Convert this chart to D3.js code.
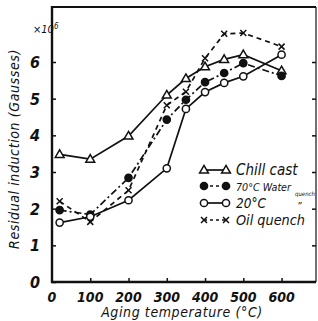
<!DOCTYPE html>
<html>
<head>
<meta charset="utf-8">
<script src="https://cdn.jsdelivr.net/npm/d3@7"></script>
<style>
  body { margin: 0; background: #fff; }
  text { font-family: "DejaVu Sans Condensed", "Liberation Sans", sans-serif; font-style: italic; fill: #111; }
  .leg { font-family: "Liberation Sans Narrow", "DejaVu Sans Condensed", sans-serif; }
</style>
</head>
<body>
<div class="chart"></div>
<script>
// Chart values
var temps = [20, 100, 200, 300, 350, 400, 450, 500, 600];
var chillCast = [3.48, 3.35, 3.98, 5.1, 5.55, 5.87, 6.07, 6.2, 5.76];
var waterQuench = [1.96, 1.84, 2.84, 4.43, 4.97, 5.45, 5.7, 5.97, 5.62];
var roomQuench = [1.62, 1.78, 2.23, 3.1, 4.72, 5.18, 5.43, 5.61, 6.2];
var oilQuench = [2.2, 1.64, 2.5, 4.82, 5.19, 6.1, 6.77, 6.79, 6.42];
var xTicks = [0, 100, 200, 300, 400, 500, 600];
var yTicks = [0, 1, 2, 3, 4, 5, 6];
var legendNames = ["Chill cast", "70°C Water", "20°C", "Oil quench"];

var svgWidth = 318;
var svgHeight = 321;

var svg = d3.select(".chart")
  .append("svg")
  .attr("width", svgWidth)
  .attr("height", svgHeight);

var xScale = d3.scaleLinear().domain([0, 690]).range([52, 316]);
var yScale = d3.scaleLinear().domain([0, 7.5]).range([282, 7]);

// frame
svg.append("line").attr("x1", 52).attr("x2", 316).attr("y1", 7).attr("y2", 7)
  .attr("stroke", "#111").attr("stroke-width", 2.2);
svg.append("line").attr("x1", 316).attr("x2", 316).attr("y1", 7).attr("y2", 282)
  .attr("stroke", "#111").attr("stroke-width", 1.2);

// axes with inward ticks
var leftAxis = d3.axisLeft(yScale).tickValues(yTicks).tickSize(-4).tickFormat("");
var rightAxis = d3.axisRight(yScale).tickValues(yTicks.slice(1)).tickSize(-4).tickFormat("");
var bottomAxis = d3.axisBottom(xScale).tickValues(xTicks.slice(1)).tickSize(-4).tickFormat("");

var gl = svg.append("g").attr("transform", "translate(52,0)").call(leftAxis);
var gr = svg.append("g").attr("transform", "translate(316,0)").call(rightAxis);
var gb = svg.append("g").attr("transform", "translate(0,282)").call(bottomAxis);
[gl, gr, gb].forEach(function(g) {
  g.select(".domain").remove();
  g.selectAll(".tick line").attr("stroke", "#111").attr("stroke-width", 1.5);
});
svg.append("line").attr("x1", 52).attr("x2", 52).attr("y1", 6).attr("y2", 283)
  .attr("stroke", "#111").attr("stroke-width", 2.4);
svg.append("line").attr("x1", 51).attr("x2", 316).attr("y1", 282).attr("y2", 282)
  .attr("stroke", "#111").attr("stroke-width", 2.4);

// tick labels
svg.selectAll(".ylab")
  .data(yTicks)
  .enter()
  .append("text")
  .attr("x", 40)
  .attr("y", d => yScale(d) + 6)
  .attr("text-anchor", "end")
  .attr("font-size", 16)
  .attr("font-weight", "bold")
  .text(d => d);

svg.selectAll(".xlab")
  .data(xTicks)
  .enter()
  .append("text")
  .attr("x", d => xScale(d))
  .attr("y", 302)
  .attr("text-anchor", "middle")
  .attr("font-size", 14)
  .attr("font-weight", "bold")
  .text(d => d);

var exp = svg.append("text").attr("x", 33).attr("y", 33).attr("font-size", 11);
exp.append("tspan").text("×10");
exp.append("tspan").attr("dy", -4).attr("font-size", 8).text("6");

// axis titles
svg.append("text")
  .attr("transform", "translate(19,149) rotate(-90)")
  .attr("text-anchor", "middle")
  .attr("font-size", 14)
  .attr("letter-spacing", 0.6)
  .text("Residual induction (Gausses)");

svg.append("text")
  .attr("x", 182)
  .attr("y", 317)
  .attr("text-anchor", "middle")
  .attr("font-size", 14)
  .attr("letter-spacing", 0.6)
  .text("Aging temperature (°C)");

// series
var series = [
  { name: legendNames[0], values: chillCast, dash: null, marker: "triangle", w: 68 },
  { name: legendNames[1], values: waterQuench, dash: "7,3,2,3", marker: "filled", w: 55 },
  { name: legendNames[2], values: roomQuench, dash: null, marker: "circle", w: 30 },
  { name: legendNames[3], values: oilQuench, dash: "5,4", marker: "cross", w: 69 }
];

var line = d3.line()
  .x((d, i) => xScale(temps[i]))
  .y(d => yScale(d));

function drawMarker(g, type, x, y) {
  if (type === "triangle") {
    g.append("path")
      .attr("d", d3.symbol().type(d3.symbolTriangle).size(34)())
      .attr("transform", "translate(" + x + "," + (y + 0.5) + ")")
      .attr("fill", "#fff").attr("stroke", "#111").attr("stroke-width", 1.5);
  } else if (type === "circle" || type === "filled") {
    g.append("circle").attr("cx", x).attr("cy", y).attr("r", 3.6)
      .attr("fill", type === "filled" ? "#111" : "#fff")
      .attr("stroke", "#111").attr("stroke-width", 1.5);
  } else {
    g.append("path")
      .attr("d", "M" + (x - 3) + "," + (y - 3) + "L" + (x + 3) + "," + (y + 3) +
        "M" + (x + 3) + "," + (y - 3) + "L" + (x - 3) + "," + (y + 3))
      .attr("stroke", "#111").attr("stroke-width", 1.5);
  }
}

series.forEach(function(s) {
  svg.append("path")
    .datum(s.values)
    .attr("d", line)
    .attr("fill", "none")
    .attr("stroke", "#111")
    .attr("stroke-width", 1.7)
    .attr("stroke-dasharray", s.dash);
});
series.forEach(function(s) {
  var g = svg.append("g");
  s.values.forEach(function(v, i) {
    drawMarker(g, s.marker, xScale(temps[i]), yScale(v));
  });
});

// size a text so its natural width is about w (capped)
function fitText(t, w, maxSize) {
  var base = 14;
  t.attr("font-size", base);
  var len = t.node().getComputedTextLength();
  t.attr("font-size", Math.min(maxSize, base * w / len));
}

// legend
var legendY = [170, 186, 203, 220];
series.forEach(function(s, i) {
  var g = svg.append("g");
  g.append("line").attr("x1", 204).attr("x2", 226)
    .attr("y1", legendY[i]).attr("y2", legendY[i])
    .attr("stroke", "#111").attr("stroke-width", 1.7)
    .attr("stroke-dasharray", s.dash ? "3,3" : null);
  drawMarker(g, s.marker, 204, legendY[i]);
  drawMarker(g, s.marker, 226, legendY[i]);
  var t = g.append("text").attr("class", "leg").attr("x", 236).attr("y", legendY[i] + 5)
    .text(s.name);
  fitText(t, s.w, 15);
});
var q = svg.append("text").attr("class", "leg").attr("x", 295).attr("y", 196).text("quench");
fitText(q, 20, 8);
svg.append("text").attr("x", 297).attr("y", 210).attr("font-size", 10).text("\u201D");
</script>
</body>
</html>
